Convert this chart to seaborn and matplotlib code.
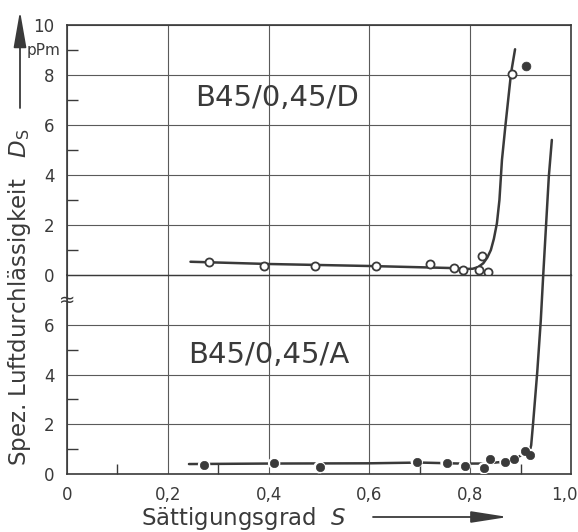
import matplotlib
matplotlib.use("Agg")
import matplotlib.pyplot as plt
import matplotlib.transforms as mtransforms
import seaborn as sns

# ---------------- data ----------------
# Upper panel  B45/0,45/D  (open circles)
d_s = [0.282, 0.391, 0.493, 0.614, 0.720, 0.768, 0.785, 0.817, 0.824, 0.835, 0.882]
d_ds = [0.52, 0.36, 0.36, 0.36, 0.43, 0.29, 0.19, 0.19, 0.76, 0.13, 8.04]
d_extra_s = [0.910]
d_extra_ds = [8.37]
d_curve_s = [0.245, 0.40, 0.60, 0.76, 0.79, 0.805, 0.816, 0.826, 0.834, 0.841,
             0.847, 0.853, 0.858, 0.863, 0.870, 0.881, 0.889]
d_curve_ds = [0.53, 0.44, 0.36, 0.28, 0.24, 0.25, 0.32, 0.47, 0.70, 1.00,
              1.45, 2.07, 3.0, 4.6, 6.00, 8.07, 9.03]

# Lower panel  B45/0,45/A  (filled dots)
a_s = [0.272, 0.411, 0.501, 0.694, 0.753, 0.789, 0.827, 0.839, 0.870, 0.886, 0.908, 0.919]
a_ds = [0.37, 0.43, 0.27, 0.50, 0.45, 0.33, 0.23, 0.60, 0.50, 0.59, 0.92, 0.76]
a_curve_s = [0.242, 0.40, 0.60, 0.70, 0.78, 0.83, 0.87, 0.89, 0.905, 0.918,
             0.921, 0.925, 0.933, 0.940, 0.945, 0.956, 0.962]
a_curve_ds = [0.40, 0.42, 0.43, 0.46, 0.42, 0.42, 0.50, 0.62, 0.80, 0.90,
              1.16, 2.09, 4.09, 6.16, 8.04, 11.96, 13.43]

x_ticks = [0, 0.2, 0.4, 0.6, 0.8, 1.0]
x_tick_labels = ["0", "0,2", "0,4", "0,6", "0,8", "1,0"]
x_minor = [0.1, 0.3, 0.5, 0.7, 0.9]
top_y_ticks = [0, 2, 4, 6, 8, 10]
top_y_labels = ["0", "2", "4", "6", "8", "10"]
top_y_minor = [1, 3, 5, 7, 9]
bot_y_ticks = [0, 2, 4, 6, 8]
bot_y_labels = ["0", "2", "4", "6", ""]
bot_y_minor = [1, 3, 5]

label_d = "B45/0,45/D"
label_a = "B45/0,45/A"
ylabel = "Spez. Luftdurchlässigkeit   $D_\\mathrm{S}$"
xlabel = "Sättigungsgrad  $S$"
unit = "pPm"

# ---------------- style ----------------
sns.set_theme(style="white")
plt.rcParams["font.family"] = ["DejaVu Sans"]
plt.rcParams["mathtext.fontset"] = "dejavusans"

INK = "#3a3a3a"
GRID = "#5a5a5a"

fig = plt.figure(figsize=(5.78, 5.32), dpi=100)
fig.patch.set_facecolor("white")

L, W = 67 / 578, 504 / 578
ax_top = fig.add_axes([L, (532 - 275) / 532, W, 250 / 532])
ax_bot = fig.add_axes([L, (532 - 474) / 532, W, 199 / 532], sharex=ax_top)
ax_bot.set_zorder(3)
ax_bot.patch.set_visible(False)

for ax in (ax_top, ax_bot):
    for sp in ax.spines.values():
        sp.set_color(INK)
        sp.set_linewidth(1.2)
    ax.grid(True, which="major", color=GRID, lw=0.8)
    ax.set_xlim(0, 1.0)

ax_top.spines["bottom"].set_visible(False)
ax_bot.spines["top"].set_linewidth(1.0)
ax_top.set_ylim(0, 10)
ax_bot.set_ylim(0, 8)

# ---------------- curves and points ----------------
sns.lineplot(x=d_curve_s, y=d_curve_ds, ax=ax_top, sort=False, estimator=None,
             color=INK, lw=1.8, zorder=3)
sns.scatterplot(x=d_s, y=d_ds, ax=ax_top, marker="o", s=34, facecolor="white",
                edgecolor=INK, linewidth=1.3, zorder=4)
sns.scatterplot(x=d_extra_s, y=d_extra_ds, ax=ax_top, marker="o", s=40,
                color=INK, edgecolor=INK, linewidth=0.5, zorder=4)

sns.lineplot(x=a_curve_s, y=a_curve_ds, ax=ax_bot, sort=False, estimator=None,
             color=INK, lw=1.8, zorder=3)
ax_bot.lines[-1].set_clip_on(False)
# white halos make the line break around the dots
sns.scatterplot(x=a_s, y=a_ds, ax=ax_bot, marker="o", s=80, color="white",
                edgecolor="none", linewidth=0, zorder=4)
sns.scatterplot(x=a_s, y=a_ds, ax=ax_bot, marker="o", s=36, color=INK,
                edgecolor=INK, linewidth=0.5, zorder=5)

# ---------------- ticks ----------------
ax_top.set_yticks(top_y_ticks)
ax_top.set_yticklabels(top_y_labels)
ax_top.set_yticks(top_y_minor, minor=True)
ax_bot.set_yticks(bot_y_ticks)
ax_bot.set_yticklabels(bot_y_labels)
ax_bot.set_yticks(bot_y_minor, minor=True)
ax_bot.set_xticks(x_ticks)
ax_bot.set_xticklabels(x_tick_labels)
ax_bot.set_xticks(x_minor, minor=True)

for ax in (ax_top, ax_bot):
    ax.tick_params(axis="both", which="major", length=0, labelsize=12,
                   labelcolor=INK, pad=9)
    ax.tick_params(axis="y", which="minor", left=True, direction="in",
                   length=8, width=1.0, color=INK)
ax_bot.tick_params(axis="x", which="minor", bottom=True, direction="in",
                   length=7, width=1.0, color=INK)
ax_top.tick_params(axis="x", which="both", bottom=False, labelbottom=False)
ax_bot.set_xlabel("")
ax_bot.set_ylabel("")
ax_top.set_xlabel("")
ax_top.set_ylabel("")

# keep the last x label inside the figure, as in the reference
last = ax_bot.get_xticklabels()[-1]
last.set_transform(last.get_transform() +
                   mtransforms.ScaledTranslation(-5 / 72, 0, fig.dpi_scale_trans))

# unit label at 9 on the upper scale
ax_top.annotate(unit, xy=(0, 9), xycoords=("axes fraction", "data"),
                xytext=(-5, 0), textcoords="offset points",
                ha="right", va="center", fontsize=11, color=INK)
# axis break mark
ax_bot.text(0, 7, "≈", transform=ax_bot.get_yaxis_transform(), ha="center",
            va="center", fontsize=14, color=INK, zorder=6, clip_on=False)

# panel labels
ax_top.text(0.417, 7.08, label_d, ha="center", va="center", fontsize=21,
            color=INK)
ax_bot.text(0.401, 4.8, label_a, ha="center", va="center", fontsize=21,
            color=INK)

# axis titles with arrows
fig.text(20 / 578, (532 - 297) / 532, ylabel, rotation=90, ha="center",
         va="center", fontsize=16.5, color=INK)
fig.text(141 / 578, (532 - 525) / 532, xlabel, ha="left", va="baseline",
         fontsize=16.5, color=INK)

fig.add_artist(matplotlib.patches.FancyArrowPatch(
    (20 / 578, (532 - 108) / 532), (20 / 578, (532 - 11) / 532),
    transform=fig.transFigure, arrowstyle="-|>,head_length=1.6,head_width=0.28",
    mutation_scale=14, color=INK, lw=1.3, shrinkA=0, shrinkB=0))
fig.add_artist(matplotlib.patches.FancyArrowPatch(
    (373 / 578, (532 - 517) / 532), (508 / 578, (532 - 517) / 532),
    transform=fig.transFigure, arrowstyle="-|>,head_length=1.6,head_width=0.25",
    mutation_scale=14, color=INK, lw=1.3, shrinkA=0, shrinkB=0))

fig.savefig("out.png", dpi=100, facecolor="white")
